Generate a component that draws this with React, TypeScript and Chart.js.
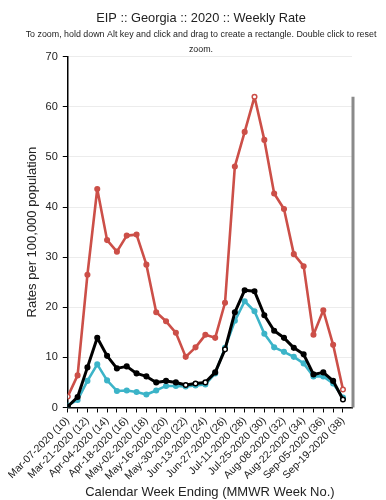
import React, { useEffect, useRef } from "react";
import { Chart, registerables } from "chart.js";

Chart.register(...registerables);

const weeks = [10, 11, 12, 13, 14, 15, 16, 17, 18, 19, 20, 21, 22, 23, 24, 25, 26, 27, 28, 29, 30, 31, 32, 33, 34, 35, 36, 37, 38];
const weekEnding = [
  "Mar-07-2020", "Mar-14-2020", "Mar-21-2020", "Mar-28-2020", "Apr-04-2020", "Apr-11-2020", "Apr-18-2020", "Apr-25-2020",
  "May-02-2020", "May-09-2020", "May-16-2020", "May-23-2020", "May-30-2020", "Jun-06-2020", "Jun-13-2020", "Jun-20-2020",
  "Jun-27-2020", "Jul-04-2020", "Jul-11-2020", "Jul-18-2020", "Jul-25-2020", "Aug-01-2020", "Aug-08-2020", "Aug-15-2020",
  "Aug-22-2020", "Aug-29-2020", "Sep-05-2020", "Sep-12-2020", "Sep-19-2020",
];
const redSeries = [2.2, 6.4, 26.5, 43.6, 33.4, 31.1, 34.3, 34.5, 28.5, 19.0, 17.2, 14.9, 10.1, 12.0, 14.5, 13.9, 20.9, 48.1, 55.0, 62.0, 53.4, 42.7, 39.6, 30.6, 28.2, 14.5, 19.4, 12.5, 3.6];
const blackSeries = [0.2, 2.1, 8.0, 13.9, 10.3, 7.8, 8.2, 6.8, 6.2, 5.0, 5.3, 5.0, 4.5, 4.8, 5.0, 7.0, 11.6, 19.0, 23.4, 23.2, 18.4, 15.3, 13.9, 11.9, 10.6, 6.6, 7.0, 5.3, 1.6];
const cyanSeries = [0.4, 1.5, 5.3, 8.6, 5.4, 3.3, 3.4, 3.1, 2.6, 3.4, 4.3, 4.3, 4.2, 4.4, 4.6, 6.8, 11.9, 17.3, 21.2, 19.2, 14.7, 12.0, 11.1, 10.1, 8.8, 6.2, 6.2, 4.8, 2.0];
const redHollow = [0, 19, 28];
const blackHollow = [12, 13, 14, 16, 28];
const cyanHollow = [16];
const yTicks = [0, 10, 20, 30, 40, 50, 60, 70];

const RED = "#cc4f48";
const CYAN = "#3cb4c8";
const BLACK = "#000000";

function pts(vals: number[]) {
  return vals.map((v, i) => ({ x: weeks[i], y: v }));
}

const grayBar = {
  id: "grayBar",
  afterDatasetsDraw(chart: any) {
    const { ctx, chartArea, scales } = chart;
    const top = scales.y.getPixelForValue(Math.max(...redSeries));
    ctx.save();
    ctx.strokeStyle = "#8a8a8a";
    ctx.lineWidth = 3;
    ctx.beginPath();
    ctx.moveTo(chartArea.right + 1, top);
    ctx.lineTo(chartArea.right + 1, chartArea.bottom);
    ctx.stroke();
    ctx.restore();
  },
};

export default function App() {
  const ref = useRef<HTMLCanvasElement | null>(null);
  useEffect(() => {
    if (!ref.current) return;
    Chart.defaults.font.family = "'Liberation Sans', Arial, sans-serif";
    const mk = (label: string, data: number[], color: string, order: number, w: number, hollow: number[]) => ({
      label,
      data: pts(data),
      borderColor: color,
      backgroundColor: color,
      pointBackgroundColor: data.map((_, i) => (hollow.includes(i) ? "#ffffff" : color)),
      pointBorderColor: color,
      pointRadius: 2.3,
      pointBorderWidth: 1.5,
      borderWidth: w,
      borderJoinStyle: "round",
      tension: 0,
      order,
    });
    const chart = new Chart(ref.current, {
      type: "line",
      data: {
        datasets: [
          mk("Black", blackSeries, BLACK, 0, 3, blackHollow),
          mk("Cyan", cyanSeries, CYAN, 1, 2.6, cyanHollow),
          mk("Red", redSeries, RED, 2, 2.6, redHollow),
        ],
      },
      plugins: [grayBar],
      options: {
        animation: false,
        responsive: true,
        maintainAspectRatio: false,
        layout: { padding: { top: 6, right: 0, bottom: 0, left: 0 } },
        plugins: {
          legend: { display: false },
          tooltip: { enabled: false },
          title: {
            display: true,
            text: "EIP :: Georgia :: 2020 :: Weekly Rate",
            color: "#222",
            font: { size: 12.8, weight: "normal" },
            padding: { top: 5, bottom: 1 },
          },
          subtitle: {
            display: true,
            text: [
              "To zoom, hold down Alt key and click and drag to create a rectangle. Double click to reset",
              "zoom.",
            ],
            color: "#222",
            font: { size: 8.9, lineHeight: 1.65 },
            padding: { top: 0, bottom: 0 },
          },
        },
        scales: {
          x: {
            type: "linear",
            min: weeks[0],
            max: weeks[weeks.length - 1] + 0.92,
            border: { display: true, color: "#000", width: 1.5 },
            grid: { drawOnChartArea: false, drawTicks: true, tickLength: 5, tickColor: "#000" },
            ticks: {
              stepSize: 1,
              autoSkip: false,
              includeBounds: false,
              maxRotation: 45,
              minRotation: 45,
              color: "#222",
              font: { size: 10.5 },
              padding: 2,
              callback: (v: any) => {
                const i = weeks.indexOf(Number(v));
                if (i < 0 || i % 2 !== 0) return "";
                return `${weekEnding[i]} (${weeks[i]})`;
              },
            },
            title: {
              display: true,
              text: "Calendar Week Ending (MMWR Week No.)",
              color: "#222",
              font: { size: 13 },
              padding: { top: 0, bottom: 0 },
            },
          },
          y: {
            min: yTicks[0],
            max: yTicks[yTicks.length - 1],
            border: { display: true, color: "#000", width: 1.5 },
            grid: { color: "#ececec", drawTicks: true, tickLength: 5, tickColor: "#000" },
            ticks: { stepSize: 10, color: "#222", font: { size: 11 }, padding: 5 },
            title: {
              display: true,
              text: "Rates per 100,000 population",
              color: "#222",
              font: { size: 13 },
              padding: { top: 0, bottom: 0 },
            },
          },
          yRight: {
            type: "linear",
            position: "right",
            display: true,
            min: yTicks[0],
            max: yTicks[yTicks.length - 1],
            grid: { display: false, drawTicks: false },
            border: { display: false },
            ticks: { display: false },
            afterFit: (s: any) => {
              s.width = 42;
            },
          },
        },
      },
    });
    return () => chart.destroy();
  }, []);
  return (
    <div style={{ position: "fixed", left: 8, top: 0, width: 386, height: 500, background: "#fff" }}>
      <canvas ref={ref} />
    </div>
  );
}
